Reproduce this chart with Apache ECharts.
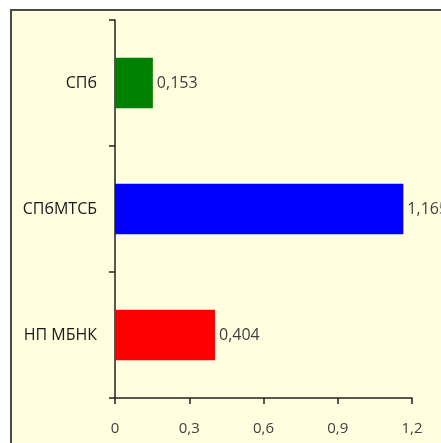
<!DOCTYPE html>
<html>
<head>
<meta charset="utf-8">
<script src="https://cdn.jsdelivr.net/npm/echarts@6/dist/echarts.min.js"></script>
<style>
html,body{margin:0;padding:0;background:#fff;}
#c{width:441px;height:443px;}
</style>
</head>
<body>
<div id="c"></div>
<script>
const categories = ['СПб', 'СПбМТСБ', 'НП МБНК'];
const values = [0.153, 1.165, 0.404];
const barColors = ['#008000', '#0000FF', '#FF0000'];
const xTicks = [0, 0.3, 0.6, 0.9, 1.2];

const fmt = v => String(v).replace('.', ',');

const chart = echarts.init(document.getElementById('c'), null, {renderer: 'canvas'});
chart.setOption({
  backgroundColor: '#ffffff',
  animation: false,
  graphic: [{
    type: 'rect',
    z: -10,
    silent: true,
    shape: {x: 11, y: 10, width: 600, height: 600},
    style: {fill: '#FFFFE0', stroke: '#4a4a4a', lineWidth: 2}
  }],
  grid: {left: 115, right: 29, top: 20, bottom: 45, containLabel: false},
  xAxis: {
    type: 'value',
    min: xTicks[0],
    max: xTicks[xTicks.length - 1],
    interval: 0.3,
    splitLine: {show: false},
    axisLine: {show: true, lineStyle: {color: '#222', width: 1.5}},
    axisTick: {show: true, length: 6, lineStyle: {color: '#222', width: 1.5}},
    axisLabel: {
      margin: 23,
      color: '#404040',
      fontSize: 15,
      fontFamily: 'Open Sans',
      formatter: v => fmt(+v.toFixed(1))
    }
  },
  yAxis: {
    type: 'category',
    data: categories,
    inverse: true,
    axisLine: {show: true, lineStyle: {color: '#222', width: 1.5}},
    axisTick: {show: true, length: 6, lineStyle: {color: '#222', width: 1.5}},
    axisLabel: {
      margin: 18,
      color: '#1a1a1a',
      fontSize: 16,
      fontFamily: 'Open Sans'
    }
  },
  series: [{
    type: 'bar',
    barWidth: '40%',
    data: values.map((v, i) => ({value: v, itemStyle: {color: barColors[i]}})),
    label: {
      show: true,
      position: 'right',
      distance: 4,
      color: '#404040',
      fontSize: 16,
      fontFamily: 'Open Sans',
      formatter: p => fmt(p.value)
    }
  }]
});
</script>
</body>
</html>
